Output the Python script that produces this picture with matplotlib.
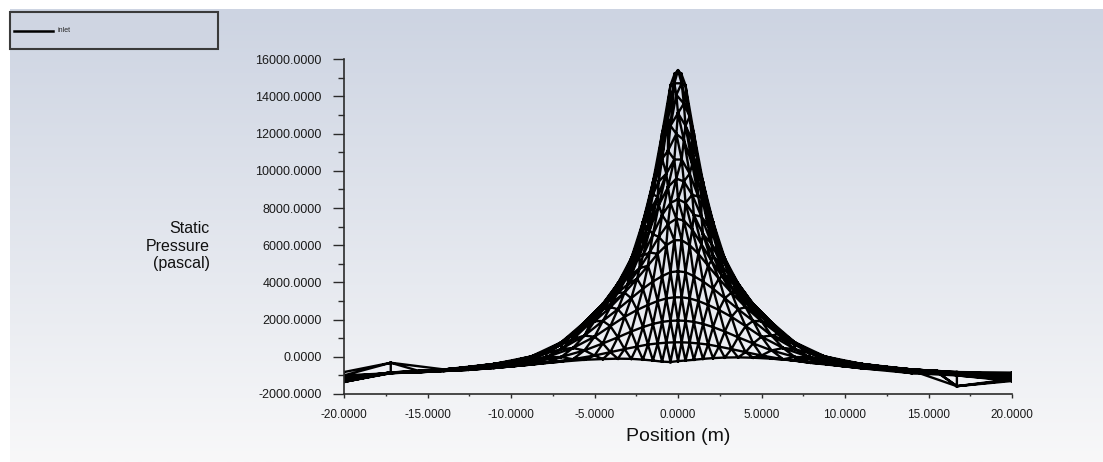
import numpy as np
import matplotlib.pyplot as plt
import matplotlib.tri as mtri
from matplotlib.lines import Line2D
from matplotlib.patches import Rectangle
from matplotlib.colors import LinearSegmentedColormap


plt.rcParams["font.family"] = ["Liberation Sans", "DejaVu Sans"]

# node positions along the inlet (m)
pos_center = [-20, -17.2, -14, -11, -8.8, -7, -5.6, -4.5, -3.6, -2.8, -2.1, -1.5,
              -0.95, -0.45, -0.2, 0, 0.2, 0.45, 0.95, 1.5, 2.1, 2.8, 3.6, 4.5,
              5.6, 7, 8.8, 11, 14, 16.7, 20]
pos_even = [-20, -17.2, -14, -11, -8.8, -7, -5.6, -4.5, -3.6, -2.8, -2.1, -1.5,
            -0.95, -0.45, 0, 0.45, 0.95, 1.5, 2.1, 2.8, 3.6, 4.5, 5.6, 7, 8.8,
            11, 14, 16.7, 20]
pos_odd = [-20, -15.5, -12.5, -9.9, -7.9, -6.3, -5.0, -4.05, -3.2, -2.45, -1.8,
           -1.22, -0.7, -0.22, 0.22, 0.7, 1.22, 1.8, 2.45, 3.2, 4.05, 5.0, 6.3,
           7.9, 9.9, 12.5, 15.5, 20]
pos_fine = [-20, -13, -8, -5.2, -4.0, -3.0, -2.3, -1.7, -1.15, -0.6, -0.1, 0.35,
            0.85, 1.4, 2.0, 2.65, 3.4, 4.4, 6, 9.5, 13.5, 20]

# offset of each node row across the inlet face
row_offset = [0, 0.35, 0.55, 0.75, 0.95, 1.2, 1.45, 1.75, 2.05, 2.4, 3.2, 4.2,
              5.5, 7.0, 9.7]
row_pos = [pos_center, pos_odd, pos_fine, pos_even, pos_fine, pos_odd, pos_fine,
           pos_even, pos_fine, pos_odd, pos_even, pos_odd, pos_even, pos_odd,
           pos_even]

# static pressure (pascal) of each node row
p_row0 = [-820, -320, -680, -380, 20, 780, 1860, 2850, 3950, 5300, 7260, 9400,
          12020, 14600, 15220, 15400, 15220, 14600, 12020, 9400, 7260, 5300, 3950,
          2850, 1860, 780, 20, -380, -680, -820, -850]
p_row1 = [-1000, -765, -550, -220, 320, 1250, 2390, 3370, 4540, 6075, 8180, 10390,
          12920, 14710, 14710, 12920, 10390, 8180, 6075, 4540, 3370, 2390, 1250,
          320, -220, -550, -765, -950]
p_row2 = [-1050, -600, 270, 2195, 3405, 4815, 6405, 8345, 10360, 12760, 14090,
          13620, 11665, 9385, 7350, 5505, 4185, 2930, 1480, -150, -640, -1000]
p_row3 = [-1100, -880, -680, -385, 10, 760, 1815, 2795, 3855, 5100, 6820, 8730,
          10650, 12430, 13100, 12430, 10650, 8730, 6820, 5100, 3855, 2795, 1815,
          760, 10, -385, -680, -880, -1000]
p_row4 = [-1150, -600, 260, 2140, 3315, 4655, 6035, 7785, 9430, 11085, 11990,
          11665, 10360, 8680, 6870, 5270, 4055, 2850, 1440, -160, -640, -1100]
p_row5 = [-1150, -765, -555, -235, 285, 1170, 2275, 3180, 4225, 5450, 7045, 8610,
          9850, 10610, 10610, 9850, 8610, 7045, 5450, 4225, 3180, 2275, 1170, 285,
          -235, -555, -765, -1100]
p_row6 = [-1200, -610, 225, 2040, 3145, 4350, 5475, 6805, 8155, 9125, 9590, 9430,
          8715, 7545, 6090, 4865, 3830, 2730, 1360, -170, -650, -1150]
p_row7 = [-1250, -840, -690, -400, -30, 660, 1620, 2550, 3445, 4400, 5440, 6590,
          7630, 8275, 8475, 8275, 7630, 6590, 5440, 4400, 3445, 2550, 1620, 660,
          -30, -400, -690, -860, -1150]
p_row8 = [-1250, -615, 185, 1870, 2855, 3910, 4765, 5610, 6450, 7140, 7425, 7330,
          6850, 6060, 5170, 4325, 3490, 2530, 1230, -190, -660, -1200]
p_row9 = [-1300, -775, -575, -265, 185, 945, 1910, 2670, 3450, 4200, 4900, 5540,
          6000, 6270, 6270, 6000, 5540, 4900, 4200, 3450, 2670, 1910, 945, 185,
          -265, -575, -775, -1250]
p_row10 = [-1200, -845, -700, -435, -120, 415, 1140, 1930, 2560, 3150, 3665, 4050,
           4340, 4550, 4600, 4550, 4340, 4050, 3665, 3150, 2560, 1930, 1140, 415,
           -120, -435, -700, -870, -1150]
p_row11 = [-1350, -790, -615, -345, -25, 470, 1080, 1650, 2150, 2520, 2790, 3000,
           3140, 3200, 3200, 3140, 3000, 2790, 2520, 2150, 1650, 1080, 470, -25,
           -345, -615, -790, -1300]
p_row12 = [-1250, -860, -740, -530, -295, -10, 345, 720, 1050, 1360, 1600, 1770,
           1880, 1935, 1950, 1935, 1880, 1770, 1600, 1360, 1050, 720, 345, -10,
           -295, -530, -740, -1580, -1200]
p_row13 = [-1300, -830, -700, -510, -320, -130, 70, 250, 415, 550, 660, 720, 760,
           780, 780, 760, 720, 660, 550, 415, 250, 70, -130, -320, -510, -700,
           -830, -1250]
p_row14 = [-1350, -880, -760, -600, -420, -260, -160, -120, -100, -110, -150, -200,
           -260, -280, -230, -200, -160, -110, -70, -40, -30, -50, -100, -200,
           -380, -620, -880, -1000, -1300]

rows = [p_row0, p_row1, p_row2, p_row3, p_row4, p_row5, p_row6, p_row7, p_row8,
        p_row9, p_row10, p_row11, p_row12, p_row13, p_row14]

x_ticks = [-20, -15, -10, -5, 0, 5, 10, 15, 20]
y_ticks = [-2000, 0, 2000, 4000, 6000, 8000, 10000, 12000, 14000, 16000]

# flatten node rows into one point set
xs, zs, ps = [], [], []
for pos, z, vals in zip(row_pos, row_offset, rows):
    xs += pos
    zs += [z] * len(pos)
    ps += vals

face = mtri.Triangulation(xs, zs)
mesh = mtri.Triangulation(xs, ps, triangles=face.triangles)

W, H = 1103, 462
fig = plt.figure(figsize=(W / 100, H / 100), dpi=100)
fig.patch.set_facecolor("white")

# gradient background
bg = fig.add_axes([10 / W, 0, 1 - 10 / W, 1 - 9 / H])
grad_cmap = LinearSegmentedColormap.from_list("bg", ["#cdd4e2", "#f8f8f9"])
bg.imshow(np.linspace(0, 1, 256).reshape(-1, 1), aspect="auto", cmap=grad_cmap)
bg.axis("off")

ax = fig.add_axes([344 / W, 1 - 394 / H, 668 / W, (394 - 59.3) / H])
ax.set_facecolor("none")
ax.triplot(mesh, color="black", lw=1.7)

ax.set_xlim(-20, 20)
ax.set_ylim(-2000, 16000)
ax.set_xticks(x_ticks)
ax.set_yticks(y_ticks)
ax.set_xticks(np.arange(-20, 20.1, 2.5), minor=True)
ax.set_yticks(np.arange(-2000, 16001, 1000), minor=True)
ax.set_xticklabels([f"{v:.4f}" for v in x_ticks])
ax.set_yticklabels([f"{v:.4f}" for v in y_ticks])

for side in ["top", "right"]:
    ax.spines[side].set_visible(False)
for side in ["left", "bottom"]:
    ax.spines[side].set_color("#2b2b2b")
    ax.spines[side].set_linewidth(1.2)

ax.tick_params(axis="y", which="major", direction="out", length=8, width=1,
               pad=8, labelsize=9, colors="#2b2b2b", labelcolor="#1a1a1a")
ax.tick_params(axis="y", which="minor", direction="out", length=4, width=1,
               colors="#2b2b2b")
ax.tick_params(axis="x", which="major", direction="out", length=3, width=1,
               pad=8, labelsize=8.5, colors="#2b2b2b", labelcolor="#1a1a1a")
ax.tick_params(axis="x", which="minor", direction="out", length=1.5, width=1,
               colors="#2b2b2b")

ax.set_xlabel("Position (m)", fontsize=14, color="#111111")
ax.xaxis.set_label_coords(0.5, -0.128)
ax.xaxis.label.set_va("center")

ax.set_ylabel("Static\nPressure\n(pascal)", fontsize=11.5, rotation=0,
              ha="right", va="center", multialignment="right",
              linespacing=1.2, color="#111111")
ax.yaxis.set_label_coords(-0.2006, 0.442)

# legend box in the top left corner
fig.patches.append(Rectangle((10 / W, 1 - 49 / H), 208 / W, 37 / H,
                             transform=fig.transFigure, facecolor="#cfd5e2",
                             edgecolor="#3a3a3a", linewidth=1.5))
fig.lines.append(Line2D([14 / W, 53 / W], [1 - 31 / H, 1 - 31 / H],
                        transform=fig.transFigure, color="black", lw=1.8))
fig.text(57 / W, 1 - 31 / H, "inlet", fontsize=5, va="center", color="#222222")

fig.savefig("out.png", dpi=100)
